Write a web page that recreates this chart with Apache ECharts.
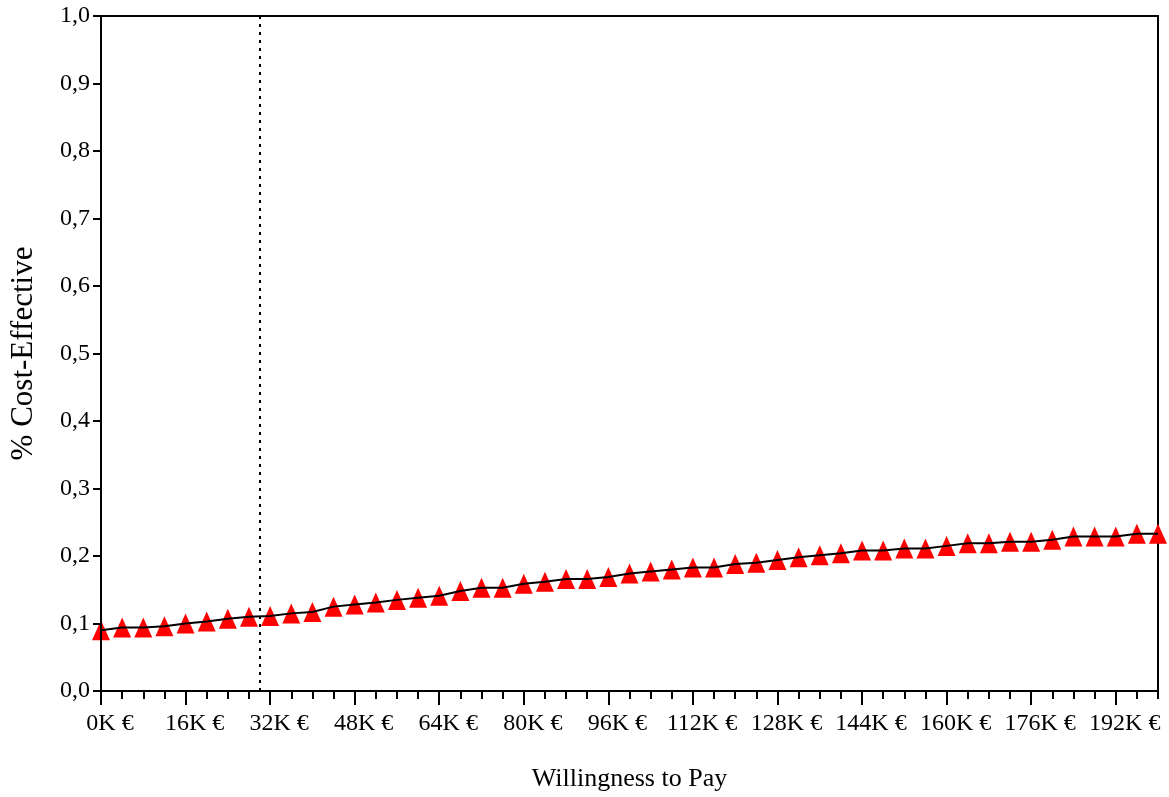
<!DOCTYPE html>
<html>
<head>
<meta charset="utf-8">
<script src="https://cdn.jsdelivr.net/npm/echarts@6/dist/echarts.min.js"></script>
<style>
html,body{margin:0;padding:0;background:#fff;}
#c{width:1169px;height:797px;}
</style>
</head>
<body>
<div id="c"></div>
<script>
// Willingness to pay (K €), every 4K
const wtp = [0,4,8,12,16,20,24,28,32,36,40,44,48,52,56,60,64,68,72,76,80,84,88,92,96,100,104,108,112,116,120,124,128,132,136,140,144,148,152,156,160,164,168,172,176,180,184,188,192,196,200];
// Probability cost-effective
const costEffective = [0.090,0.094,0.094,0.096,0.100,0.103,0.107,0.110,0.111,0.115,0.117,0.125,0.128,0.131,0.135,0.138,0.141,0.148,0.153,0.153,0.159,0.162,0.166,0.166,0.169,0.174,0.177,0.180,0.183,0.183,0.188,0.190,0.194,0.198,0.201,0.204,0.208,0.208,0.211,0.211,0.215,0.219,0.219,0.221,0.221,0.224,0.229,0.229,0.229,0.233,0.233];
// Labelled x ticks (K €)
const xLabelTicks = [0,16,32,48,64,80,96,112,128,144,160,176,192];
// Threshold (K €)
const threshold = [30];

const pts = wtp.map((x, i) => [x, costEffective[i]]);
const font = 'Liberation Serif';

const chart = echarts.init(document.getElementById('c'), null, {renderer: 'canvas'});
chart.setOption({
  animation: false,
  backgroundColor: '#fff',
  grid: {left: 101, right: 11, top: 16, bottom: 106, outerBoundsMode: 'none', containLabel: false,
    show: true, borderColor: '#000', borderWidth: 2, backgroundColor: 'transparent'},
  xAxis: [
    {
      type: 'value', min: 0, max: 200, interval: 4, position: 'bottom', z: 10,
      axisLine: {show: true, onZero: false, lineStyle: {color: '#000', width: 2}},
      axisTick: {show: true, length: 8, lineStyle: {color: '#000', width: 2}},
      axisLabel: {show: false},
      splitLine: {show: false},
      name: 'Willingness to Pay', nameLocation: 'middle', nameGap: 75,
      nameTextStyle: {fontFamily: font, fontSize: 26, color: '#000'}
    },
    {
      type: 'value', min: 0, max: 200, position: 'bottom', z: 10,
      axisLine: {show: false},
      axisTick: {show: true, length: 14, customValues: xLabelTicks, lineStyle: {color: '#000', width: 2}},
      axisLabel: {show: true, customValues: xLabelTicks, margin: 21, fontFamily: font, fontSize: 24, color: '#000',
        padding: [0, 0, 0, 18],
        formatter: v => v + 'K €'},
      splitLine: {show: false}
    }
  ],
  yAxis: {
    type: 'value', min: 0, max: 1, interval: 0.1, z: 10,
    axisLine: {show: true, lineStyle: {color: '#000', width: 2}},
    axisTick: {show: true, length: 8, lineStyle: {color: '#000', width: 2}},
    axisLabel: {margin: 11, fontFamily: font, fontSize: 24, color: '#000',
      formatter: v => v.toFixed(1).replace('.', ',')},
    splitLine: {show: false},
    name: '% Cost-Effective', nameLocation: 'middle', nameGap: 62,
    nameTextStyle: {fontFamily: font, fontSize: 31, color: '#000'}
  },
  series: [
    {
      type: 'scatter', xAxisIndex: 0, data: pts, symbol: 'triangle', symbolSize: [18, 20],
      itemStyle: {color: '#ff0000', opacity: 1}, z: 2, clip: false, silent: true
    },
    {
      type: 'line', xAxisIndex: 0, data: pts, showSymbol: false, symbol: 'none',
      lineStyle: {color: '#000', width: 2}, z: 3, clip: false, silent: true,
      markLine: {
        silent: true, symbol: 'none', label: {show: false},
        lineStyle: {color: '#000', width: 2, type: [3, 5]},
        data: threshold.map(t => ({xAxis: t}))
      }
    }
  ]
});
</script>
</body>
</html>
